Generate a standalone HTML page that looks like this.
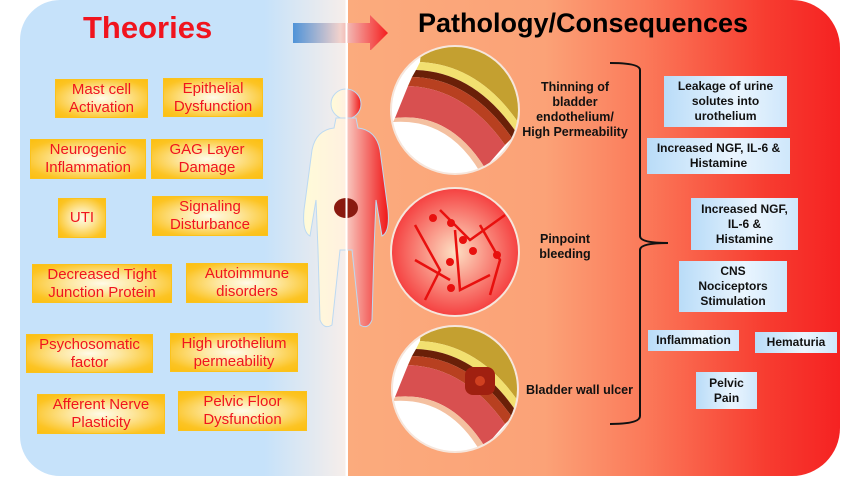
<!DOCTYPE html>
<html><head><meta charset="utf-8"><style>
body{margin:0;width:850px;height:479px;background:#fff;position:relative;overflow:hidden;font-family:"Liberation Sans",sans-serif}
.lp{position:absolute;left:20px;top:0;width:326px;height:476px;border-radius:40px 0 0 40px;background:linear-gradient(90deg,#c6e2fa 0%,#c6e2fa 75%,#f7eeea 100%)}
.rp{position:absolute;left:348px;top:0;width:492px;height:476px;border-radius:0 48px 48px 0;background:linear-gradient(90deg,#fbab7d 0%,#fba277 40%,#fb7a5a 60%,#f73c30 85%,#f52222 100%)}
.t{position:absolute;box-sizing:border-box;border:1px solid #fbc21c;background:radial-gradient(ellipse at center,#fffbe8 0%,#fde7a0 35%,#fcc424 80%,#fcbf10 100%);color:#f0141e;font-size:15px;line-height:18px;text-align:center;display:flex;align-items:center;justify-content:center}
.b{position:absolute;box-sizing:border-box;background:linear-gradient(90deg,#b9dcf8,#eaf5fe 60%,#cfe7fb);color:#111;font-weight:bold;font-size:12px;line-height:15px;text-align:center;display:flex;align-items:center;justify-content:center}
.l{position:absolute;font-weight:bold;font-size:12.5px;line-height:15px;text-align:center;color:#111}
</style></head><body>
<div class="lp"></div><div class="rp"></div>
<div style="position:absolute;left:83px;top:10px;font-size:31px;font-weight:bold;color:#f0141e">Theories</div>
<div style="position:absolute;left:418px;top:8px;font-size:27px;font-weight:bold;color:#000">Pathology/Consequences</div>
<svg style="position:absolute;left:290px;top:14px" width="110" height="36"><defs><linearGradient id="ag"><stop offset="0" stop-color="#4f93d8"/><stop offset=".5" stop-color="#f3d2cc"/><stop offset="1" stop-color="#f41e1e"/></linearGradient></defs><polygon points="3,9 80,9 80,1 98,19 80,37 80,29 3,29" fill="url(#ag)"/></svg>
<svg style="position:absolute;left:0;top:0" width="850" height="479">
<defs><linearGradient id="bg"><stop offset="0" stop-color="#fffbd8"/><stop offset=".5" stop-color="#fff0e0"/><stop offset=".52" stop-color="#f8c4bc"/><stop offset="1" stop-color="#f01818"/></linearGradient>
<radialGradient id="c2"><stop offset="0" stop-color="#fde0c4"/><stop offset="1" stop-color="#f54040"/></radialGradient>
<clipPath id="k1"><circle cx="455" cy="110" r="63"/></clipPath>
<clipPath id="k3"><circle cx="455" cy="389" r="62"/></clipPath>
<g id="tis">
<path d="M430,-30 Q530,-20 540,80 L520,125 Q480,65 420,62 Z" fill="#c4a030"/>
<path d="M420,62 Q480,65 520,125 L516,132 Q475,72 416,70 Z" fill="#f2e070"/>
<path d="M416,70 Q475,72 516,132 L512,138 Q470,78 412,77 Z" fill="#6a2008"/>
<path d="M412,77 Q470,78 512,138 L505,145 Q465,88 408,86 Z" fill="#b84020"/>
<path d="M408,86 Q465,88 505,145 L485,168 Q450,112 395,118 Z" fill="#d85050"/>
<path d="M485,168 Q450,112 395,118 L393,122 Q448,118 480,172 Z" fill="#f4c0a0"/>
</g>
</defs>
<g fill="url(#bg)" stroke="#bcd9f2" stroke-width="1">
<circle cx="346" cy="104" r="15"/>
<path d="M336,118 L356,118 L358,128 Q376,130 380,150 L388,210 Q390,232 382,236 L376,200 L374,250 L372,320 Q368,330 360,325 L352,250 L340,250 L332,325 Q324,330 320,320 L318,250 L316,200 L310,236 Q302,232 304,210 L312,150 Q316,130 334,128 Z"/>
</g>
<ellipse cx="346" cy="208" rx="12" ry="10" fill="#8a1a10"/>
<line x1="346.5" y1="0" x2="346.5" y2="476" stroke="#fff" stroke-width="2"/>
<circle cx="455" cy="110" r="64" fill="#fff" stroke="#f6e6dc" stroke-width="2"/>
<g clip-path="url(#k1)"><use href="#tis"/></g>
<circle cx="455" cy="252" r="64" fill="url(#c2)" stroke="#f6e6dc" stroke-width="2"/>
<g stroke="#e8100e" stroke-width="2.5" fill="none"><path d="M415,225 L440,270 L425,300"/><path d="M440,210 L470,240 L505,215"/><path d="M455,230 L460,290 L490,275"/><path d="M415,260 L450,280"/><path d="M480,225 L500,260 L490,295"/></g>
<g fill="#e8100e"><circle cx="433" cy="218" r="4"/><circle cx="451" cy="223" r="4"/><circle cx="463" cy="240" r="4"/><circle cx="473" cy="251" r="4"/><circle cx="497" cy="255" r="4"/><circle cx="450" cy="262" r="4"/><circle cx="451" cy="288" r="4"/></g>
<circle cx="455" cy="389" r="63" fill="#fff" stroke="#f6e6dc" stroke-width="2"/>
<g clip-path="url(#k3)"><use href="#tis" transform="translate(0,279)"/>
<rect x="465" y="367" width="30" height="28" rx="8" fill="#a02010"/>
<circle cx="480" cy="381" r="5" fill="#d04020"/>
</g>
<path d="M610,63 Q640,63 640,70 L640,236 Q640,243 668,243 Q640,243 640,250 L640,416 Q640,424 610,424" stroke="#111" stroke-width="2" fill="none"/>
</svg>
<div class="l" style="left:518px;top:80px;width:114px">Thinning of<br>bladder<br>endothelium/<br>High Permeability</div>
<div class="l" style="left:520px;top:232px;width:90px">Pinpoint<br>bleeding</div>
<div class="l" style="left:522px;top:383px;width:115px">Bladder wall ulcer</div>
<div class="t" style="left:55px;top:79px;width:93px;height:39px">Mast cell<br>Activation</div>
<div class="t" style="left:163px;top:78px;width:100px;height:39px">Epithelial<br>Dysfunction</div>
<div class="t" style="left:30px;top:139px;width:116px;height:40px">Neurogenic<br>Inflammation</div>
<div class="t" style="left:151px;top:139px;width:112px;height:40px">GAG Layer<br>Damage</div>
<div class="t" style="left:58px;top:198px;width:48px;height:40px">UTI</div>
<div class="t" style="left:152px;top:196px;width:116px;height:40px">Signaling<br>Disturbance</div>
<div class="t" style="left:32px;top:264px;width:140px;height:39px">Decreased Tight<br>Junction Protein</div>
<div class="t" style="left:186px;top:263px;width:122px;height:40px">Autoimmune<br>disorders</div>
<div class="t" style="left:26px;top:334px;width:127px;height:39px">Psychosomatic<br>factor</div>
<div class="t" style="left:170px;top:333px;width:128px;height:39px">High urothelium<br>permeability</div>
<div class="t" style="left:37px;top:394px;width:128px;height:40px">Afferent Nerve<br>Plasticity</div>
<div class="t" style="left:178px;top:391px;width:129px;height:40px">Pelvic Floor<br>Dysfunction</div>
<div class="b" style="left:664px;top:76px;width:123px;height:51px">Leakage of urine<br>solutes into<br>urothelium</div>
<div class="b" style="left:647px;top:138px;width:143px;height:36px">Increased NGF, IL-6 &amp;<br>Histamine</div>
<div class="b" style="left:691px;top:198px;width:107px;height:52px">Increased NGF,<br>IL-6 &amp;<br>Histamine</div>
<div class="b" style="left:679px;top:261px;width:108px;height:51px">CNS<br>Nociceptors<br>Stimulation</div>
<div class="b" style="left:648px;top:330px;width:91px;height:21px">Inflammation</div>
<div class="b" style="left:755px;top:332px;width:82px;height:21px">Hematuria</div>
<div class="b" style="left:696px;top:372px;width:61px;height:37px">Pelvic<br>Pain</div>
</body></html>
